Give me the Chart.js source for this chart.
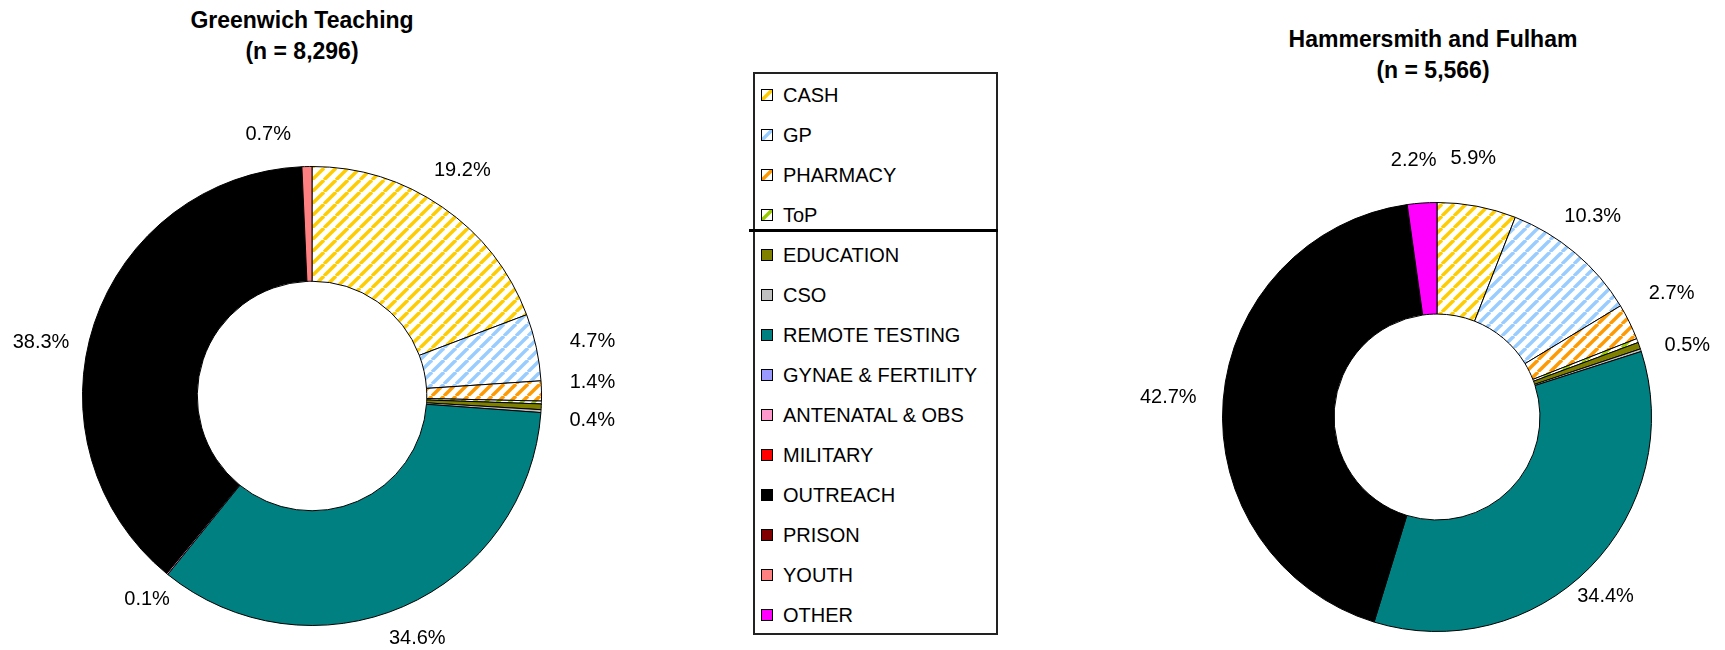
<!DOCTYPE html>
<html>
<head>
<meta charset="utf-8">
<script src="https://cdn.jsdelivr.net/npm/chart.js@4.4.0/dist/chart.umd.min.js"></script>
<style>
html,body{margin:0;padding:0;background:#fff;}
#wrap{position:relative;width:1725px;height:650px;overflow:hidden;font-family:"Liberation Sans",Arial,sans-serif;color:#000;}
.title{position:absolute;width:420px;text-align:center;font-weight:bold;font-size:23px;line-height:31px;}
#legendBox{position:absolute;left:753px;top:72px;width:241px;height:559px;border:2px solid #222;}
#legendSep{position:absolute;left:749px;top:229px;width:249px;height:3px;background:#000;}
.lgItem{position:absolute;left:761px;height:24px;line-height:24px;font-size:20px;white-space:nowrap;}
.lgItem canvas{position:absolute;left:0;top:6px;}
.lgItem span{position:absolute;left:22px;top:0;}
canvas.chart{position:absolute;top:0;}
</style>
</head>
<body>
<div id="wrap">
  <div class="title" id="titleL" style="left:92px;top:5px;"></div>
  <div class="title" id="titleR" style="left:1223px;top:24px;"></div>
  <canvas class="chart" id="chartL" width="740" height="650" style="left:0;"></canvas>
  <canvas class="chart" id="chartR" width="715" height="650" style="left:1010px;"></canvas>
  <div id="legendBox"></div>
  <div id="legendSep"></div>
</div>
<script>
// ---- data ----
const categories = ['CASH','GP','PHARMACY','ToP','EDUCATION','CSO','REMOTE TESTING','GYNAE & FERTILITY','ANTENATAL & OBS','MILITARY','OUTREACH','PRISON','YOUTH','OTHER'];
const greenwichValues   = [19.2, 4.7, 1.4, 0.2, 0.4, 0.2, 34.6, 0, 0.1, 0, 38.3, 0, 0.7, 0];
const hammersmithValues = [5.9, 10.3, 2.7, 0.3, 0.5, 0.2, 34.4, 0, 0, 0, 42.7, 0, 0, 2.2];
const greenwichTitle = ['Greenwich Teaching', '(n = 8,296)'];
const hammersmithTitle = ['Hammersmith and Fulham', '(n = 5,566)'];
const unlabelledCategories = ['ToP','CSO'];
const stripedCategories = ['CASH','GP','PHARMACY','ToP'];
const categoryColors = ['#FFCC00','#99CCFF','#FF9900','#99CC00','#808000','#C0C0C0','#008080','#9999FF','#FF99CC','#FF0000','#000000','#800000','#FF8080','#FF00FF'];

// ---- helpers ----
function makeTile(color){
  const s = 12;
  const c = document.createElement('canvas');
  c.width = s; c.height = s;
  const g = c.getContext('2d');
  g.fillStyle = '#fff'; g.fillRect(0,0,s,s);
  g.strokeStyle = color; g.lineWidth = 3.4;
  [-s, 0, s].forEach(ox => {
    g.beginPath(); g.moveTo(ox, s); g.lineTo(ox + s, 0); g.stroke();
  });
  return c;
}
const tiles = categoryColors.map((c,i)=> stripedCategories.includes(categories[i]) ? makeTile(c) : null);
function fillFor(ctx, i){
  return tiles[i] ? ctx.createPattern(tiles[i], 'repeat') : categoryColors[i];
}

const pctLabels = {
  id:'pctLabels',
  afterDatasetsDraw(chart, args, opts){
    const ctx = chart.ctx;
    const meta = chart.getDatasetMeta(0);
    const vals = chart.data.datasets[0].data;
    ctx.save();
    ctx.font = opts.font;
    ctx.fillStyle = '#000';
    ctx.textAlign = 'center';
    ctx.textBaseline = 'middle';
    meta.data.forEach((arc, i) => {
      const v = vals[i];
      if (!v || unlabelledCategories.includes(chart.data.labels[i])) return;
      const p = arc.getProps(['x','y','startAngle','endAngle','outerRadius'], true);
      const mid = (p.startAngle + p.endAngle) / 2;
      const r = p.outerRadius + opts.gap;
      const n = opts.nudge[i] || [0,0];
      ctx.fillText(v.toFixed(1) + '%', p.x + Math.cos(mid) * r + n[0], p.y + Math.sin(mid) * r + n[1]);
    });
    ctx.restore();
  }
};

function makeChart(id, values, cutout, padding, nudge){
  const el = document.getElementById(id);
  const ctx = el.getContext('2d');
  return new Chart(ctx, {
    type:'doughnut',
    data:{
      labels: categories,
      datasets:[{
        data: values,
        backgroundColor: categories.map((_, i) => fillFor(ctx, i)),
        borderColor:'#000',
        borderWidth: c => (c.raw ? 1 : 0),
        hoverOffset:0
      }]
    },
    options:{
      responsive:false,
      animation:false,
      cutout: cutout,
      rotation:0,
      layout:{padding: padding},
      events:[],
      plugins:{
        legend:{display:false},
        tooltip:{enabled:false},
        title:{display:false},
        pctLabels:{font:'20px "Liberation Sans", Arial, sans-serif', gap:35, nudge: nudge}
      }
    },
    plugins:[pctLabels]
  });
}

makeChart('chartL', greenwichValues, '50%',
  {left:82, top:166, right:198, bottom:24},
  [[0,-8],[22,2],[16,-8],null,[16,12],null,[0,0],null,[2,-2],null,[-20,30],null,[-38,3],null]);

makeChart('chartR', hammersmithValues, '48%',
  {left:212, top:202, right:73, bottom:18},
  [[-10,-13],[-5,-10],[11,-13],null,[15,11],null,[-9,4],null,null,null,[-20,0],null,null,[-6,-8]]);

document.getElementById('titleL').innerHTML = greenwichTitle.join('<br>');
document.getElementById('titleR').innerHTML = hammersmithTitle.join('<br>');

// legend
const wrap = document.getElementById('wrap');
categories.forEach((name, i) => {
  const item = document.createElement('div');
  item.className = 'lgItem';
  item.style.top = (95 + 40 * i - 12) + 'px';
  const sw = document.createElement('canvas');
  sw.width = 12; sw.height = 12;
  const g = sw.getContext('2d');
  g.fillStyle = fillFor(g, i);
  g.fillRect(0,0,12,12);
  g.strokeStyle = '#000'; g.lineWidth = 1;
  g.strokeRect(0.5,0.5,11,11);
  const t = document.createElement('span');
  t.textContent = name;
  item.appendChild(sw); item.appendChild(t);
  wrap.appendChild(item);
});
</script>
</body>
</html>
